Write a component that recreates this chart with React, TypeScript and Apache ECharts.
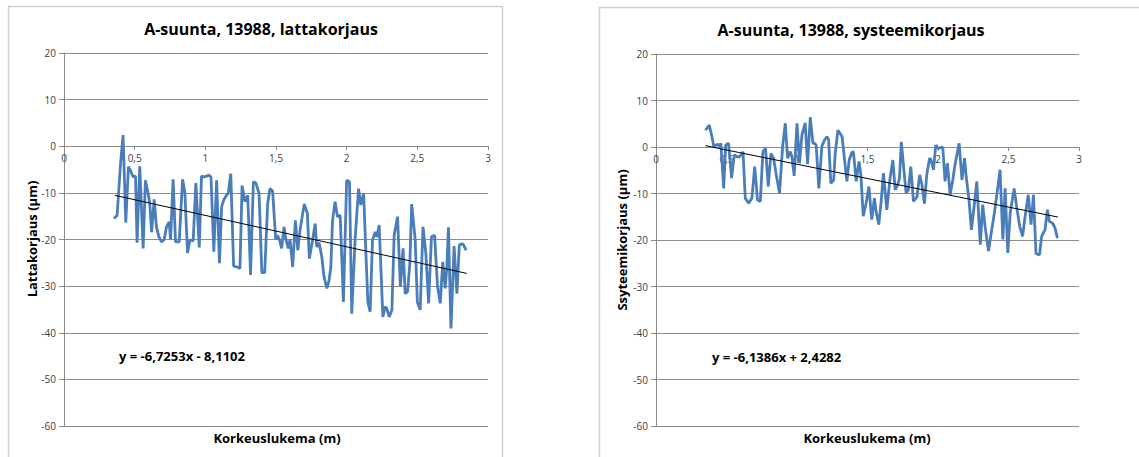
import React, { useEffect, useRef } from "react";
import * as echarts from "echarts";

// Left chart: lattakorjaus
const lattaX = [
  0.354, 0.376, 0.4, 0.418, 0.437, 0.456, 0.475, 0.489, 0.506, 0.517, 0.536, 0.56, 0.576, 0.595, 0.607, 0.62,
  0.638, 0.654, 0.671, 0.69, 0.709, 0.725, 0.744, 0.754, 0.772, 0.789, 0.815, 0.839, 0.855, 0.874, 0.891, 0.914,
  0.933, 0.957, 0.973, 0.99, 1.009, 1.026, 1.04, 1.06, 1.08, 1.1, 1.115, 1.132, 1.15, 1.162, 1.18, 1.2,
  1.226, 1.245, 1.26, 1.28, 1.3, 1.32, 1.34, 1.358, 1.38, 1.4, 1.42, 1.441, 1.457, 1.476, 1.498, 1.51,
  1.524, 1.54, 1.557, 1.571, 1.587, 1.599, 1.618, 1.637, 1.654, 1.67, 1.689, 1.7, 1.722, 1.736, 1.753, 1.777,
  1.788, 1.805, 1.824, 1.84, 1.86, 1.876, 1.888, 1.9, 1.918, 1.935, 1.954, 1.977, 2.0, 2.02, 2.036, 2.06,
  2.084, 2.1, 2.12, 2.138, 2.15, 2.166, 2.183, 2.202, 2.214, 2.23, 2.256, 2.273, 2.284, 2.301, 2.32, 2.336,
  2.36, 2.38, 2.399, 2.414, 2.431, 2.447, 2.46, 2.485, 2.5, 2.52, 2.54, 2.56, 2.58, 2.6, 2.622, 2.643,
  2.662, 2.68, 2.697, 2.709, 2.72, 2.738, 2.76, 2.78, 2.797, 2.816, 2.828, 2.845,
];
const lattaY = [
  -15.5, -14.8, -3.7, 2.4, -16.4, -4.4, -5.5, -6.6, -6.4, -20.7, -4.3, -21.9, -7.3, -10.1, -12.3, -18.4,
  -11.4, -17.3, -19.4, -20.5, -20.0, -17.3, -16.2, -20.0, -7.1, -20.5, -20.5, -7.1, -9.8, -22.9, -20.1, -20.3,
  -7.9, -21.7, -6.4, -6.6, -6.4, -6.2, -6.6, -22.6, -7.3, -25.1, -13.0, -11.4, -10.5, -10.1, -5.9, -25.7,
  -25.9, -26.2, -8.4, -11.9, -10.5, -27.6, -7.6, -7.9, -10.1, -27.1, -27.1, -12.3, -9.1, -9.6, -20.0, -19.1,
  -20.0, -21.9, -17.3, -20.1, -21.9, -20.0, -25.9, -15.9, -22.3, -18.0, -14.4, -12.4, -14.4, -24.1, -21.2, -16.6,
  -21.6, -20.7, -23.7, -28.0, -30.5, -28.7, -25.9, -15.9, -11.9, -15.1, -14.8, -33.4, -7.3, -7.6, -35.9, -19.8,
  -9.1, -12.6, -10.1, -24.4, -33.4, -35.5, -20.1, -18.4, -19.4, -16.9, -36.6, -34.4, -34.8, -36.6, -35.1, -19.1,
  -15.1, -30.1, -21.9, -31.6, -31.2, -25.1, -12.4, -20.1, -33.4, -35.1, -17.3, -22.9, -33.7, -19.4, -19.1, -30.1,
  -33.7, -24.8, -30.5, -25.9, -17.4, -39.1, -21.4, -31.6, -21.2, -20.9, -21.2, -22.3,
];
const lattaTrendX = [0.36, 2.85];
const lattaTrendY = [-10.53, -27.28];

// Right chart: systeemikorjaus
const systX = [
  0.35, 0.378, 0.397, 0.41, 0.425, 0.437, 0.45, 0.46, 0.48, 0.494, 0.515, 0.536, 0.555, 0.574, 0.593, 0.61,
  0.617, 0.633, 0.657, 0.68, 0.7, 0.72, 0.74, 0.758, 0.777, 0.796, 0.815, 0.834, 0.853, 0.876, 0.898, 0.917,
  0.933, 0.952, 0.964, 0.98, 1.0, 1.018, 1.035, 1.058, 1.075, 1.094, 1.113, 1.125, 1.136, 1.155, 1.176, 1.195,
  1.212, 1.224, 1.24, 1.26, 1.271, 1.29, 1.306, 1.32, 1.335, 1.354, 1.37, 1.389, 1.4, 1.42, 1.44, 1.453,
  1.47, 1.49, 1.51, 1.53, 1.549, 1.561, 1.58, 1.597, 1.613, 1.637, 1.66, 1.68, 1.696, 1.715, 1.727, 1.74,
  1.755, 1.774, 1.79, 1.807, 1.826, 1.85, 1.87, 1.886, 1.904, 1.92, 1.94, 1.951, 1.968, 1.984, 2.0, 2.02,
  2.034, 2.05, 2.067, 2.086, 2.105, 2.12, 2.15, 2.17, 2.188, 2.2, 2.22, 2.237, 2.256, 2.275, 2.3, 2.317,
  2.334, 2.358, 2.381, 2.4, 2.42, 2.44, 2.46, 2.476, 2.495, 2.512, 2.54, 2.559, 2.58, 2.6, 2.618, 2.64,
  2.66, 2.677, 2.695, 2.72, 2.735, 2.759, 2.776, 2.79, 2.813, 2.83, 2.847,
];
const systY = [
  3.6, 4.7, 2.2, 0.1, 0.4, 0.6, 0.1, 0.8, -8.9, 0.4, 0.8, -6.7, -1.7, -2.1, -2.1, -1.4,
  -1.0, -11.0, -12.1, -11.0, -4.2, -11.4, -11.7, -1.0, -0.3, -8.5, -1.4, -2.4, -6.0, -9.9, 0.1, 5.1,
  -2.4, -1.0, -2.1, -6.2, 5.1, -3.5, 2.6, 5.2, -3.7, 6.4, 0.8, 0.8, 0.4, -8.9, 0.1, 1.5,
  2.2, 1.6, -7.8, -7.1, -1.4, 3.6, 2.9, 2.2, -2.1, -7.4, -2.8, -1.2, -1.0, -7.4, -3.1, -6.0,
  -14.9, -12.1, -8.5, -15.6, -11.0, -13.9, -16.7, -11.7, -5.6, -13.5, -6.7, -2.8, -9.2, -8.1, -6.7, 1.1,
  -3.9, -9.9, -9.2, -4.2, -11.7, -10.8, -6.0, -8.1, -12.2, -6.0, -2.4, -2.8, -4.9, 0.4, -0.3, -0.1,
  -0.1, -7.4, -3.5, -10.3, -7.1, -3.9, 0.8, -7.1, -2.4, -6.4, -11.4, -17.8, -12.8, -7.4, -21.0, -12.4,
  -17.1, -22.4, -17.8, -14.2, -9.6, -4.9, -19.9, -8.9, -22.8, -14.2, -8.9, -13.1, -17.1, -19.2, -14.9, -10.3,
  -16.7, -10.3, -22.9, -23.2, -19.2, -17.8, -13.5, -16.0, -16.4, -17.4, -19.6,
];
const systTrendX = [0.35, 2.85];
const systTrendY = [0.28, -15.07];

const xTickMin = 0;
const xTickMax = 3;
const xTickStep = 0.5;
const yTickMin = -60;
const yTickMax = 20;
const yTickStep = 10;

const titles = ["A-suunta, 13988, lattakorjaus", "A-suunta, 13988, systeemikorjaus"];
const yNames = ["Lattakorjaus (\u00b5m)", "Ssyteemikorjaus (\u00b5m)"];
const xName = "Korkeuslukema (m)";
const equations = ["y = -6,7253x - 8,1102", "y = -6,1386x + 2,4282"];

const FONT = "'Open Sans', 'Noto Sans', sans-serif";
const BLUE = "#4a7ebb";
const GRID = "#8c8c8c";

function pairs(xs: number[], ys: number[]) {
  return xs.map((x, i) => [x, ys[i]]);
}

export default function App() {
  const ref = useRef<HTMLDivElement>(null);
  useEffect(() => {
    if (!ref.current) return;
    const chart = echarts.init(ref.current, undefined, { renderer: "svg" });
    const grids = [
      { left: 64, top: 53, width: 424, height: 373 },
      { left: 656, top: 54, width: 423, height: 372 },
    ];
    // place the x axis on the y = 0 line
    const zeroFrac = (0 - yTickMin) / (yTickMax - yTickMin);
    const xAxes = grids.map((g, i) => ({
      type: "value",
      gridIndex: i,
      min: xTickMin,
      max: xTickMax,
      interval: xTickStep,
      position: "bottom",
      offset: -g.height * zeroFrac,
      axisLine: { onZero: false, lineStyle: { color: GRID, width: 1 } },
      axisTick: { show: true, length: 4, lineStyle: { color: GRID } },
      axisLabel: {
        color: "#404040",
        fontFamily: FONT,
        fontSize: 10,
        margin: 7,
        formatter: (v: number) => String(v).replace(".", ","),
      },
      splitLine: { show: false },
    }));
    const yAxes = grids.map((_, i) => ({
      type: "value",
      gridIndex: i,
      min: yTickMin,
      max: yTickMax,
      interval: yTickStep,
      axisLine: { show: true, onZero: false, lineStyle: { color: GRID, width: 1 } },
      axisTick: { show: true, length: 5, lineStyle: { color: GRID } },
      axisLabel: { color: "#404040", fontFamily: FONT, fontSize: 10, margin: 8 },
      splitLine: { show: true, lineStyle: { color: GRID, width: 1 } },
    }));
    const textStyle = (extra: any) => ({
      fontFamily: FONT,
      fontSize: 13,
      fontWeight: "bold",
      fill: "#000",
      ...extra,
    });
    const option = {
      animation: false,
      backgroundColor: "#ffffff",
      title: [
        {
          text: titles[0],
          left: 256,
          top: 16,
          textAlign: "center",
          textStyle: { fontFamily: FONT, fontSize: 16, fontWeight: "bold", color: "#000" },
        },
        {
          text: titles[1],
          left: 846,
          top: 17,
          textAlign: "center",
          textStyle: { fontFamily: FONT, fontSize: 16, fontWeight: "bold", color: "#000" },
        },
      ],
      grid: grids,
      xAxis: xAxes,
      yAxis: yAxes,
      series: [
        {
          type: "line",
          xAxisIndex: 0,
          yAxisIndex: 0,
          data: pairs(lattaX, lattaY),
          showSymbol: false,
          lineStyle: { color: BLUE, width: 2.8 },
          itemStyle: { color: BLUE },
        },
        {
          type: "line",
          xAxisIndex: 0,
          yAxisIndex: 0,
          data: pairs(lattaTrendX, lattaTrendY),
          showSymbol: false,
          lineStyle: { color: "#000", width: 1 },
        },
        {
          type: "line",
          xAxisIndex: 1,
          yAxisIndex: 1,
          data: pairs(systX, systY),
          showSymbol: false,
          lineStyle: { color: BLUE, width: 2.8 },
          itemStyle: { color: BLUE },
        },
        {
          type: "line",
          xAxisIndex: 1,
          yAxisIndex: 1,
          data: pairs(systTrendX, systTrendY),
          showSymbol: false,
          lineStyle: { color: "#000", width: 1 },
        },
      ],
      graphic: [
        {
          type: "rect",
          shape: { x: 8.5, y: 6.5, width: 494, height: 520 },
          style: { fill: "none", stroke: "#d0d0d0", lineWidth: 1.5 },
          z: -1,
        },
        {
          type: "rect",
          shape: { x: 599.5, y: 7.5, width: 620, height: 520 },
          style: { fill: "none", stroke: "#d0d0d0", lineWidth: 1.5 },
          z: -1,
        },
        {
          type: "text",
          x: 32,
          y: 239,
          rotation: Math.PI / 2,
          style: textStyle({ text: yNames[0], align: "center", verticalAlign: "middle" }),
        },
        {
          type: "text",
          x: 622,
          y: 240,
          rotation: Math.PI / 2,
          style: textStyle({ text: yNames[1], align: "center", verticalAlign: "middle" }),
        },
        {
          type: "text",
          x: 277,
          y: 438,
          style: textStyle({ text: xName, align: "center", verticalAlign: "middle" }),
        },
        {
          type: "text",
          x: 867,
          y: 438,
          style: textStyle({ text: xName, align: "center", verticalAlign: "middle" }),
        },
        {
          type: "text",
          x: 119,
          y: 356,
          style: textStyle({ text: equations[0], align: "left", verticalAlign: "middle" }),
        },
        {
          type: "text",
          x: 712,
          y: 357,
          style: textStyle({ text: equations[1], align: "left", verticalAlign: "middle" }),
        },
      ],
    };
    chart.setOption(option as any);
    return () => chart.dispose();
  }, []);
  return (
    <div
      ref={ref}
      style={{ position: "absolute", left: 0, top: 0, width: 1139, height: 457 }}
    />
  );
}
